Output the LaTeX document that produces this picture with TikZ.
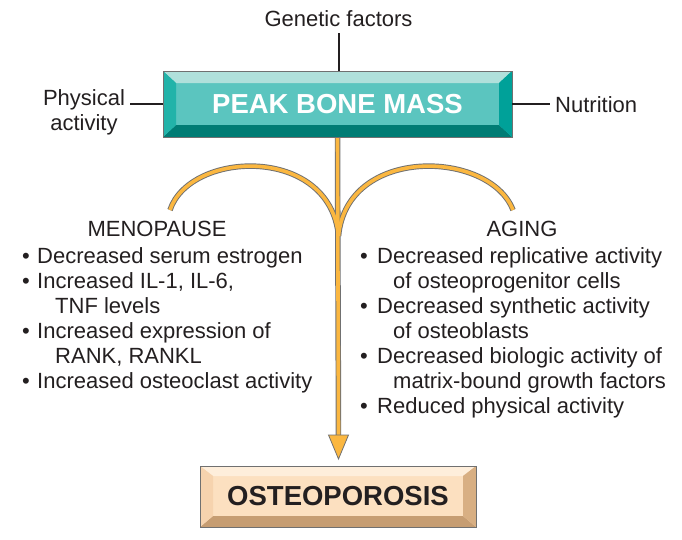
\documentclass[tikz,border=0pt]{standalone}
\usepackage{fontspec}
\setmainfont{Liberation Sans}
\usetikzlibrary{calc}
\definecolor{txt}{HTML}{231F20}
\definecolor{pface}{HTML}{5BC5BF}
\definecolor{ptop}{HTML}{B0E0DB}
\definecolor{pleft}{HTML}{22B3A9}
\definecolor{pright}{HTML}{00A199}
\definecolor{pbot}{HTML}{007C74}
\definecolor{oface}{HTML}{FCE0C0}
\definecolor{otop}{HTML}{FEEEDB}
\definecolor{oleft}{HTML}{F6D3AE}
\definecolor{oright}{HTML}{D8AF83}
\definecolor{obot}{HTML}{C69D72}
\definecolor{arr}{HTML}{FBB740}
\definecolor{arrline}{HTML}{707070}
\tikzset{
  body/.style={font=\fontsize{22}{25}\selectfont, text=txt, inner sep=0pt},
  bline/.style={body, anchor=base west},
  head/.style={body, anchor=base},
  conn/.style={line width=2pt, draw=txt},
  bigbox/.style={minimum width=#1, minimum height=0pt, inner sep=0pt, font=\fontsize{27.5}{30}\selectfont\bfseries},
  outer/.style={line width=5.5pt, draw=arrline, line cap=butt},
  inner/.style={line width=3.6pt, draw=arr, line cap=butt},
}
\begin{document}
\begin{tikzpicture}[x=1pt,y=-1pt]
\useasboundingbox (0,0) rectangle (682,539);
% ---- peak bone mass box
\fill[pface] (163,71) rectangle (512,137);
\coordinate (pnw) at (163,71); \coordinate (pne) at (512,71);
\coordinate (psw) at (163,137); \coordinate (pse) at (512,137);
\fill[ptop] (pnw) -- (pne) -- ($(pne)+(-13,12)$) -- ($(pnw)+(13,12)$) -- cycle;
\fill[pbot] (psw) -- (pse) -- ($(pse)+(-13,-12)$) -- ($(psw)+(13,-12)$) -- cycle;
\fill[pleft] (pnw) -- ($(pnw)+(13,12)$) -- ($(psw)+(13,-12)$) -- (psw) -- cycle;
\fill[pright] (pne) -- ($(pne)+(-13,12)$) -- ($(pse)+(-13,-12)$) -- (pse) -- cycle;
\draw[arrline, line width=0.8pt] (pnw) rectangle (pse);
\node[bigbox=349pt, minimum height=66pt, text=white] (peak) at (337.5,104) {PEAK BONE MASS};
% ---- osteoporosis box
\fill[oface] (200,466) rectangle (476,527);
\coordinate (onw) at (200,466); \coordinate (one) at (476,466);
\coordinate (osw) at (200,527); \coordinate (ose) at (476,527);
\fill[otop] (onw) -- (one) -- ($(one)+(-13,10)$) -- ($(onw)+(13,10)$) -- cycle;
\fill[obot] (osw) -- (ose) -- ($(ose)+(-13,-11)$) -- ($(osw)+(13,-11)$) -- cycle;
\fill[oleft] (onw) -- ($(onw)+(13,10)$) -- ($(osw)+(13,-11)$) -- (osw) -- cycle;
\fill[oright] (one) -- ($(one)+(-13,10)$) -- ($(ose)+(-13,-11)$) -- (ose) -- cycle;
\draw[arrline, line width=0.8pt] (onw) rectangle (ose);
\node[bigbox=276pt, minimum height=61pt, text=txt] (osteo) at (338,496.5) {OSTEOPOROSIS};
% ---- factors
\node[body, anchor=base] (gen) at (338.5,26) {Genetic factors};
\node[head] (phys1) at (84,105) {Physical};
\node[head] (phys2) at (84,130) {activity};
\node[bline] (nut) at (555,112) {Nutrition};
\coordinate (gentop) at (338.5,33);
\coordinate (physend) at (130,104);
\coordinate (nutend) at (550,104);
\draw[conn] (gentop) -- (gentop |- peak.north);
\draw[conn] (physend) -- (physend -| peak.west);
\draw[conn] (nutend -| peak.east) -- (nutend);
% ---- orange arrows
\coordinate (ltip) at (170,210);
\coordinate (rtip) at (513,210);
\coordinate (merge) at (338.5,236);
\coordinate (shaftend) at (338.5,437);
\coordinate (tip) at (338.5,459);
\draw[outer] (peak.south) -- (shaftend);
\draw[outer] (ltip) .. controls (190,150) and (330,145) .. (merge);
\draw[outer] (rtip) .. controls (490,150) and (347,145) .. (merge);
\draw[inner] ($(peak.south)+(0,1)$) -- (shaftend);
\draw[inner] (ltip) .. controls (190,150) and (330,145) .. (merge);
\draw[inner] (rtip) .. controls (490,150) and (347,145) .. (merge);
\filldraw[fill=arr, draw=arrline, line width=0.8pt, line join=miter] (328.5,435) -- (348.5,435) -- (tip) -- cycle;
% ---- menopause list
\node[head] (meno) at (157,236) {MENOPAUSE};
\node[bline] (mb1) at (22,263) {•};
\node[bline] (m1) at (37,263) {Decreased serum estrogen};
\node[bline] (mb2) at (22,288) {•};
\node[bline] (m2) at (37,288) {Increased IL-1, IL-6,};
\node[bline] (m2b) at (55,313) {TNF levels};
\node[bline] (mb3) at (22,338) {•};
\node[bline] (m3) at (37,338) {Increased expression of};
\node[bline] (m3b) at (55,363) {RANK, RANKL};
\node[bline] (mb4) at (22,388) {•};
\node[bline] (m4) at (37,388) {Increased osteoclast activity};
% ---- aging list
\node[head] (aging) at (522,236) {AGING};
\node[bline] (ab1) at (360,263) {•};
\node[bline] (a1) at (377,263) {Decreased replicative activity};
\node[bline] (a1b) at (393,288) {of osteoprogenitor cells};
\node[bline] (ab2) at (360,313) {•};
\node[bline] (a2) at (377,313) {Decreased synthetic activity};
\node[bline] (a2b) at (393,338) {of osteoblasts};
\node[bline] (ab3) at (360,363) {•};
\node[bline] (a3) at (377,363) {Decreased biologic activity of};
\node[bline] (a3b) at (393,388) {matrix-bound growth factors};
\node[bline] (ab4) at (360,413) {•};
\node[bline] (a4) at (377,413) {Reduced physical activity};
\end{tikzpicture}
\end{document}
